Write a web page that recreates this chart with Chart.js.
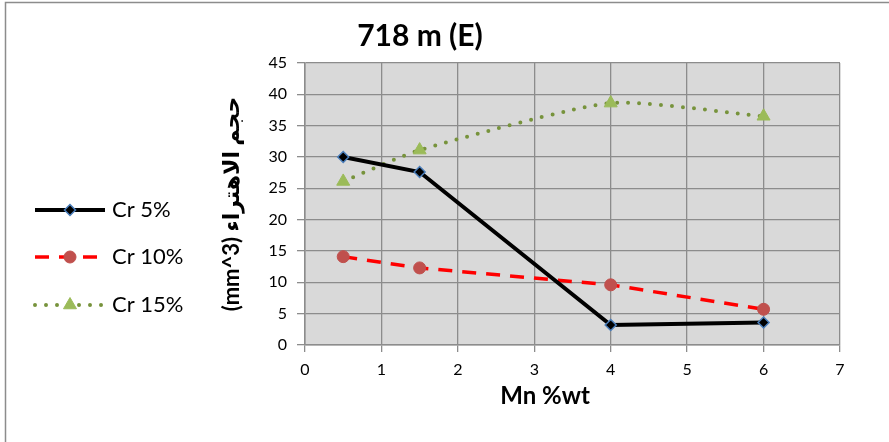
<!DOCTYPE html>
<html>
<head>
<meta charset="utf-8">
<script src="https://cdn.jsdelivr.net/npm/chart.js"></script>
<style>
	body { margin: 0; background: #fff; }
	canvas { display: block; }
</style>
</head>
<body>
<canvas id="wearChart" width="889" height="442"></canvas>
<script>
// data block
const mnWt = [0.5, 1.5, 4, 6];
const cr5 = [30, 27.6, 3.2, 3.6];
const cr10 = [14.1, 12.3, 9.6, 5.7];
const cr15 = [26.1, 31.1, 38.6, 36.5];
const seriesNames = ['Cr 5%', 'Cr 10%', 'Cr 15%'];
const xTicks = [0, 1, 2, 3, 4, 5, 6, 7];
const yTicks = [0, 5, 10, 15, 20, 25, 30, 35, 40, 45];

const toPoints = (vals) => vals.map((v, i) => ({ x: mnWt[i], y: v }));

const gridGrey = '#8c8c8c';
const fontFam = "Lato, 'DejaVu Sans', sans-serif";

// plot background, outer frame, legend and x title
const decorPlugin = {
	id: 'decor',
	beforeDraw(chart) {
		const { ctx, chartArea } = chart;
		ctx.save();
		ctx.fillStyle = '#d9d9d9';
		ctx.fillRect(chartArea.left, chartArea.top, chartArea.right - chartArea.left, chartArea.bottom - chartArea.top);
		ctx.strokeStyle = '#8c8c8c';
		ctx.lineWidth = 1.5;
		ctx.strokeRect(5.5, 2.5, 900, 460);
		ctx.restore();
	},
	afterDraw(chart) {
		const { ctx } = chart;
		const rows = [210, 257, 305];
		ctx.save();
		chart.data.datasets.forEach((ds, i) => {
			const y = rows[i];
			ctx.save();
			ctx.strokeStyle = ds.borderColor;
			ctx.lineWidth = ds.borderWidth;
			ctx.lineCap = ds.borderCapStyle || 'butt';
			ctx.setLineDash(ds.borderDash || []);
			ctx.beginPath();
			ctx.moveTo(35, y);
			ctx.lineTo(105, y);
			ctx.stroke();
			ctx.restore();
			ctx.save();
			ctx.fillStyle = ds.pointBackgroundColor;
			ctx.strokeStyle = ds.pointBorderColor;
			ctx.lineWidth = ds.pointBorderWidth;
			Chart.helpers.drawPoint(ctx, { pointStyle: ds.pointStyle, radius: ds.pointRadius, borderWidth: ds.pointBorderWidth, rotation: 0 }, 70, y);
			ctx.restore();
			ctx.fillStyle = '#000';
			ctx.font = '22px ' + fontFam;
			ctx.textBaseline = 'middle';
			ctx.textAlign = 'left';
			ctx.fillText(ds.label, 112, y);
		});
		// x axis title
		ctx.font = 'bold 24px ' + fontFam;
		ctx.textAlign = 'center';
		ctx.textBaseline = 'middle';
		ctx.fillText('Mn %wt', 545, 396);
		ctx.restore();
	},
};

const data = {
	datasets: [
		{
			label: seriesNames[0],
			data: toPoints(cr5),
			borderColor: '#000000',
			borderWidth: 4,
			tension: 0,
			pointStyle: 'rectRot',
			pointRadius: 5.5,
			pointBackgroundColor: '#000000',
			pointBorderColor: '#4a7ebb',
			pointBorderWidth: 1.5,
		},
		{
			label: seriesNames[1],
			data: toPoints(cr10),
			borderColor: '#ff0000',
			borderWidth: 3.5,
			borderDash: [14, 10],
			tension: 0,
			pointStyle: 'circle',
			pointRadius: 6,
			pointBackgroundColor: '#c0504d',
			pointBorderColor: '#c0504d',
			pointBorderWidth: 1,
		},
		{
			label: seriesNames[2],
			data: toPoints(cr15),
			borderColor: '#77933c',
			borderWidth: 4,
			borderDash: [0, 11],
			borderCapStyle: 'round',
			tension: 0.2,
			pointStyle: 'triangle',
			pointRadius: 7.5,
			pointBackgroundColor: '#9bbb59',
			pointBorderColor: '#9bbb59',
			pointBorderWidth: 1,
		},
	],
};

const config = {
	type: 'line',
	data: data,
	plugins: [decorPlugin],
	options: {
		responsive: false,
		animation: false,
		layout: { padding: { left: 0, right: 49, top: 0, bottom: 0 } },
		plugins: {
			legend: { display: false },
			tooltip: { enabled: false },
			title: {
				display: true,
				text: '718 m (E)',
				color: '#000',
				font: { family: fontFam, size: 30, weight: 'bold' },
				padding: { top: 18, bottom: 9 },
			},
		},
		scales: {
			x: {
				type: 'linear',
				min: xTicks[0],
				max: xTicks[xTicks.length - 1],
				afterBuildTicks: (s) => { s.ticks = xTicks.map((v) => ({ value: v })); },
				afterFit: (s) => { s.height = 97; },
				grid: { color: gridGrey, lineWidth: 1.3, tickLength: 7 },
				border: { color: gridGrey, width: 1.5 },
				ticks: { color: '#000', padding: 8, font: { family: fontFam, size: 16 } },
			},
			y: {
				min: yTicks[0],
				max: yTicks[yTicks.length - 1],
				afterBuildTicks: (s) => { s.ticks = yTicks.map((v) => ({ value: v })); },
				afterFit: (s) => { s.width = 305; },
				grid: { color: gridGrey, lineWidth: 1.3, tickLength: 8 },
				border: { color: gridGrey, width: 1.5 },
				ticks: { color: '#000', padding: 10, font: { family: fontFam, size: 16 } },
				title: {
					display: true,
					text: '(mm^3) حجم الاهتراء',
					color: '#000',
					font: { family: fontFam, size: 22, weight: 'bold' },
					padding: { top: 219, bottom: 0 },
				},
			},
		},
	},
};

const wearChart = new Chart(document.getElementById('wearChart'), config);
</script>
</body>
</html>
